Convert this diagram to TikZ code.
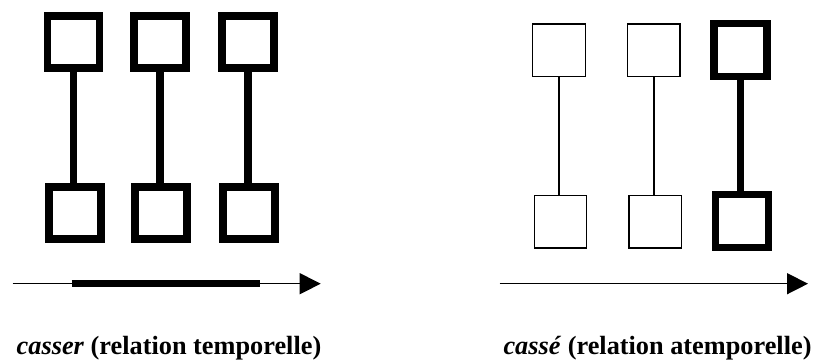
\documentclass[tikz,border=0pt]{standalone}
\usepackage{fontspec}
\setmainfont{Liberation Serif}
\usepackage{tikz}
\usetikzlibrary{arrows.meta, positioning}

\begin{document}
\begin{tikzpicture}[
    x=1pt, y=-1pt,
    heavybox/.style={rectangle, draw=black, line width=7.6pt, minimum size=52pt, inner sep=0pt},
    heavylink/.style={draw=black, line width=7.6pt},
    lightbox/.style={rectangle, draw=black, line width=1.4pt, minimum size=52.5pt, inner sep=0pt},
    lightlink/.style={draw=black, line width=1.4pt},
    timeline/.style={line width=1.4pt, -{Triangle[length=21pt, width=21pt]}},
    period/.style={line width=7pt},
    caption/.style={font=\fontsize{26.3}{30}\selectfont\bfseries, anchor=base, inner sep=0pt}
]
\useasboundingbox (0,0) rectangle (816,360);

% Left: casser
\node[heavybox] (lt1) at (73.5,41.7) {};
\node[heavybox] (lt2) at (160,41.7) {};
\node[heavybox] (lt3) at (248,41.7) {};
\node[heavybox, below=111.5pt of lt1, xshift=1.2pt] (lb1) {};
\node[heavybox, below=111.5pt of lt2, xshift=1.2pt] (lb2) {};
\node[heavybox, below=111.5pt of lt3, xshift=1.2pt] (lb3) {};
\draw[heavylink] (lt1) -- (lt1 |- lb1.north);
\draw[heavylink] (lt2) -- (lt2 |- lb2.north);
\draw[heavylink] (lt3) -- (lt3 |- lb3.north);

% Right: casse
\node[lightbox] (rt1) at (559,50.3) {};
\node[lightbox] (rt2) at (653.8,50.3) {};
\node[heavybox, minimum size=53pt] (rt3) at (740.3,50) {};
\node[lightbox, below=117.5pt of rt1, xshift=1.5pt] (rb1) {};
\node[lightbox, below=117.5pt of rt2, xshift=1.5pt] (rb2) {};
\node[heavybox, minimum size=53pt, below=110.5pt of rt3, xshift=1.5pt] (rb3) {};
\draw[lightlink] (rt1) -- (rt1 |- rb1.north);
\draw[lightlink] (rt2) -- (rt2 |- rb2.north);
\draw[heavylink] (rt3) -- (rt3 |- rb3.north);

% Time axes
\coordinate (la) at (12.7,283.7);
\coordinate (lz) at (320.7,283.7);
\coordinate (ps) at (71.7,283.7);
\coordinate (pe) at (260,283.7);
\draw[timeline] (la) -- (lz);
\draw[period] (ps) -- (pe);
\coordinate (ra) at (499.7,283.7);
\coordinate (rz) at (808,283.7);
\draw[timeline] (ra) -- (rz);

% Captions
\node[caption] (lcap) at (169,354) {\textit{casser} (relation temporelle)};
\node[caption] (rcap) at (657.5,354) {\textit{cassé} (relation atemporelle)};

\end{tikzpicture}
\end{document}
